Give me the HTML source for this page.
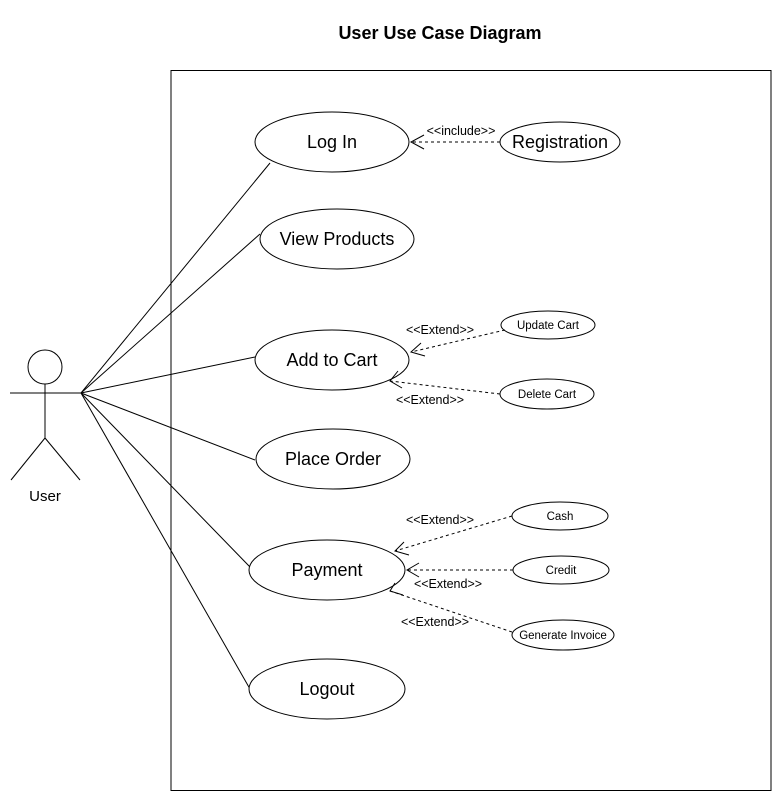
<!DOCTYPE html>
<html><head><meta charset="utf-8"><style>
html,body{margin:0;padding:0;background:#fff;}
svg{display:block;}
text{font-family:"Liberation Sans",Arial,sans-serif;fill:#000;}
</style></head><body>
<svg width="781" height="801" viewBox="0 0 781 801" xmlns="http://www.w3.org/2000/svg">
<rect width="781" height="801" fill="#fff"/>
<text x="440" y="39" font-size="18" font-weight="bold" text-anchor="middle">User Use Case Diagram</text>
<rect x="171" y="70.5" width="600" height="720" fill="none" stroke="#000" stroke-width="1"/>
<g stroke="#000" stroke-width="1" fill="none">
<circle cx="45" cy="367" r="17"/>
<line x1="45" y1="384" x2="45" y2="438"/>
<line x1="10" y1="393" x2="81" y2="393"/>
<line x1="45" y1="438" x2="11" y2="480"/>
<line x1="45" y1="438" x2="80" y2="480"/>
<line x1="81" y1="393" x2="270" y2="163"/>
<line x1="81" y1="393" x2="260" y2="234"/>
<line x1="81" y1="393" x2="255" y2="357"/>
<line x1="81" y1="393" x2="255" y2="460"/>
<line x1="81" y1="393" x2="250" y2="567"/>
<line x1="81" y1="393" x2="250" y2="689"/>
</g>
<text x="45" y="501" font-size="15" text-anchor="middle">User</text>
<g stroke="#000" stroke-width="1" fill="#fff">
<ellipse cx="332" cy="142" rx="77" ry="30"/>
<ellipse cx="560" cy="142" rx="60" ry="20"/>
<ellipse cx="337" cy="239" rx="77" ry="30"/>
<ellipse cx="332" cy="360" rx="77" ry="30"/>
<ellipse cx="548" cy="325" rx="47" ry="14"/>
<ellipse cx="547" cy="394" rx="47" ry="15"/>
<ellipse cx="333" cy="459" rx="77" ry="30"/>
<ellipse cx="327" cy="570" rx="78" ry="30"/>
<ellipse cx="560" cy="516" rx="48" ry="14"/>
<ellipse cx="561" cy="570" rx="48" ry="14"/>
<ellipse cx="563" cy="635" rx="51" ry="15"/>
<ellipse cx="327" cy="689" rx="78" ry="30"/>
</g>
<g font-size="18" text-anchor="middle">
<text x="332" y="148">Log In</text>
<text x="560" y="148">Registration</text>
<text x="337" y="245">View Products</text>
<text x="332" y="366">Add to Cart</text>
<text x="333" y="465">Place Order</text>
<text x="327" y="576">Payment</text>
<text x="327" y="695">Logout</text>
</g>
<g font-size="11.5" text-anchor="middle">
<text x="548" y="329">Update Cart</text>
<text x="547" y="398">Delete Cart</text>
<text x="560" y="520">Cash</text>
<text x="561" y="574">Credit</text>
<text x="563" y="639">Generate Invoice</text>
</g>
<g stroke="#000" stroke-width="1" fill="none" stroke-dasharray="3,3">
<line x1="500" y1="142" x2="411" y2="142"/>
<line x1="505" y1="330" x2="411" y2="352"/>
<line x1="500" y1="394" x2="390" y2="381"/>
<line x1="512" y1="516" x2="395" y2="551"/>
<line x1="513" y1="570" x2="407" y2="570"/>
<line x1="512" y1="632" x2="390" y2="591"/>
</g>
<g stroke="#000" stroke-width="1" fill="none">
<polyline points="424,135 411,142 424,149"/>
<polyline points="421,343 411,352 425,356"/>
<polyline points="398,371 390,381 402,388"/>
<polyline points="404,542 395,551 409,555"/>
<polyline points="419,563 407,570 419,577"/>
<polyline points="395,583 390,591 403,595"/>
</g>
<g font-size="12.5" text-anchor="middle">
<text x="461" y="135">&lt;&lt;include&gt;&gt;</text>
<text x="440" y="334">&lt;&lt;Extend&gt;&gt;</text>
<text x="430" y="404">&lt;&lt;Extend&gt;&gt;</text>
<text x="440" y="524">&lt;&lt;Extend&gt;&gt;</text>
<text x="448" y="588">&lt;&lt;Extend&gt;&gt;</text>
<text x="435" y="626">&lt;&lt;Extend&gt;&gt;</text>
</g>
</svg>
</body></html>
